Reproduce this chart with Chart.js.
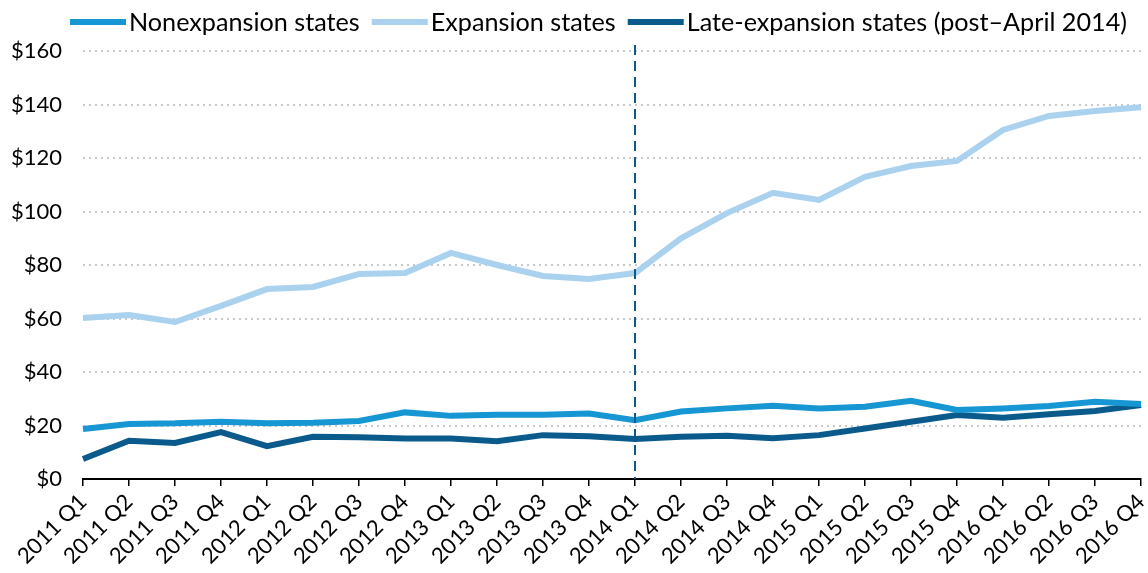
<!DOCTYPE html>
<html><head><meta charset="utf-8">
<script src="https://cdn.jsdelivr.net/npm/chart.js@4/dist/chart.umd.min.js"></script>
<style>html,body{margin:0;padding:0;background:#fff}#wrap{width:1148px;height:573px;position:relative}</style>
</head><body><div id="wrap"><canvas id="c"></canvas></div>
<script>
const categories = ['2011 Q1','2011 Q2','2011 Q3','2011 Q4','2012 Q1','2012 Q2','2012 Q3','2012 Q4',
  '2013 Q1','2013 Q2','2013 Q3','2013 Q4','2014 Q1','2014 Q2','2014 Q3','2014 Q4',
  '2015 Q1','2015 Q2','2015 Q3','2015 Q4','2016 Q1','2016 Q2','2016 Q3','2016 Q4'];
const nonexpansion = [18.7,20.6,20.8,21.4,20.8,21.0,21.7,24.9,23.6,24.0,24.0,24.5,22.0,25.2,26.4,27.4,26.4,27.0,29.2,25.8,26.4,27.3,28.9,28.0];
const expansion = [60.2,61.3,58.7,64.7,71.0,71.8,76.6,77.0,84.5,80.0,75.9,74.8,77.0,90.0,99.4,107.0,104.3,113.0,117.0,118.9,130.5,135.7,137.6,139.0];
const lateExpansion = [7.5,14.3,13.5,17.5,12.3,15.8,15.6,15.1,15.1,14.1,16.4,16.0,15.0,15.8,16.2,15.2,16.4,18.9,21.4,23.9,22.9,24.2,25.4,27.7];
const yTicks = [0,20,40,60,80,100,120,140,160];
const seriesNames = ['Nonexpansion states','Expansion states','Late-expansion states (post\u2013April 2014)'];
const markerCategory = '2014 Q1';

const C_NON = '#1696d2', C_EXP = '#aad2ee', C_LATE = '#0b5a8c';
const FONT = 'Lato';

const markerPlugin = {
  id: 'marker',
  afterDatasetsDraw(chart) {
    const x = chart.scales.x.getPixelForValue(categories.indexOf(markerCategory));
    const ctx = chart.ctx;
    ctx.save();
    ctx.strokeStyle = C_LATE;
    ctx.lineWidth = 2;
    ctx.setLineDash([10, 6]);
    ctx.beginPath();
    ctx.moveTo(x, chart.chartArea.top - 6);
    ctx.lineTo(x, chart.chartArea.bottom);
    ctx.stroke();
    ctx.restore();
  }
};

const legendPlugin = {
  id: 'lineLegend',
  afterDraw(chart) {
    const ctx = chart.ctx;
    ctx.save();
    ctx.font = '25.2px ' + FONT;
    ctx.textBaseline = 'middle';
    ctx.textAlign = 'left';
    let x = chart.chartArea.left - 13;
    const yc = 22;
    chart.data.datasets.forEach((ds, i) => {
      ctx.fillStyle = ds.borderColor;
      ctx.fillRect(x, yc - 3, 56, 6);
      x += 56 + 3;
      ctx.fillStyle = '#000';
      ctx.fillText(ds.label, x, yc + 1);
      x += ctx.measureText(ds.label).width + 12;
    });
    ctx.restore();
  }
};

new Chart(document.getElementById('c'), {
  type: 'line',
  data: {
    labels: categories,
    datasets: [
      {label: seriesNames[0], data: nonexpansion, borderColor: C_NON, backgroundColor: C_NON},
      {label: seriesNames[1], data: expansion, borderColor: C_EXP, backgroundColor: C_EXP},
      {label: seriesNames[2], data: lateExpansion, borderColor: C_LATE, backgroundColor: C_LATE}
    ]
  },
  options: {
    responsive: true,
    maintainAspectRatio: false,
    animation: false,
    layout: {padding: {left: 0, right: 7, top: 51, bottom: 0}},
    elements: {
      line: {borderWidth: 6, tension: 0, fill: false, borderCapStyle: 'butt', borderJoinStyle: 'miter'},
      point: {radius: 0, hoverRadius: 0}
    },
    plugins: {
      tooltip: {enabled: false},
      legend: {display: false}
    },
    scales: {
      x: {
        type: 'category',
        offset: false,
        grid: {display: true, drawOnChartArea: false, drawTicks: true, tickLength: 7, color: '#000', lineWidth: 1.5},
        border: {display: true, color: '#000', width: 2},
        ticks: {autoSkip: false, minRotation: 45, maxRotation: 45, font: {family: FONT, size: 22}, color: '#000', padding: 3},
        afterFit(s) { s.height = 94; s.paddingLeft = 0; s.paddingRight = 0; }
      },
      y: {
        min: 0, max: 160,
        afterBuildTicks(s) { s.ticks = yTicks.map(v => ({value: v})); },
        grid: {display: true, drawTicks: false, color: '#c8c8c8', lineWidth: 2},
        border: {display: false, dash: [2, 4]},
        ticks: {font: {family: FONT, size: 22}, color: '#000', padding: 21, callback: v => '$' + v},
        afterFit(s) { s.width = 83; s.paddingTop = 0; s.paddingBottom = 0; }
      }
    }
  },
  plugins: [markerPlugin, legendPlugin]
});
</script>
</body></html>
